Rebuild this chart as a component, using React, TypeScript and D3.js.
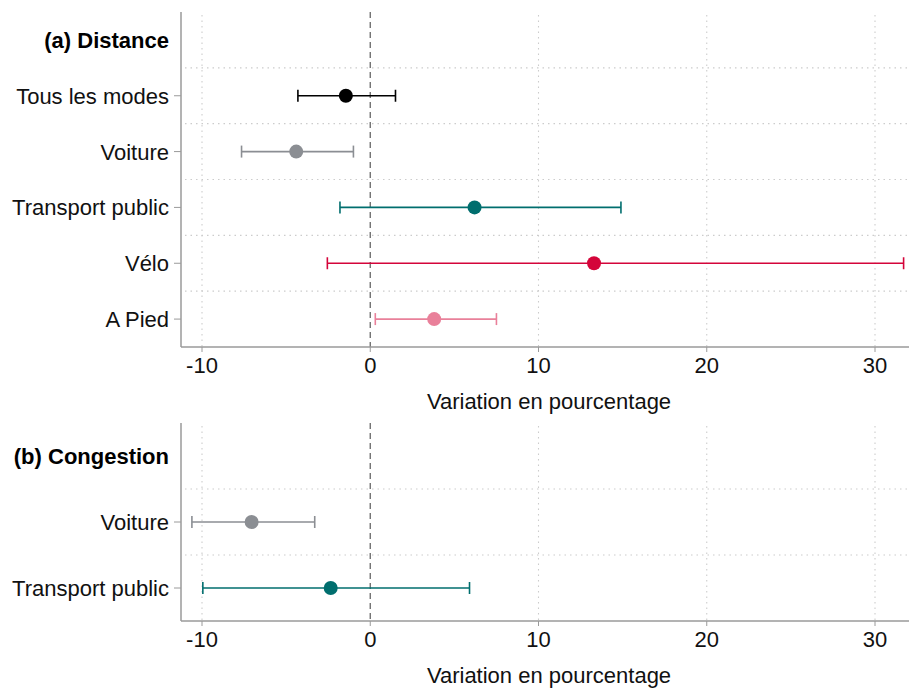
import React from "react";
import * as d3 from "d3";

const W = 909;
const H = 688;

// panel (a) Distance
const distLabels = ["Tous les modes", "Voiture", "Transport public", "Vélo", "A Pied"];
const distEst = [-1.45, -4.4, 6.2, 13.3, 3.8];
const distLo = [-4.3, -7.65, -1.8, -2.55, 0.3];
const distHi = [1.5, -1.0, 14.9, 31.7, 7.5];
const distColors = ["#000000", "#8b8e93", "#006e6e", "#d4053a", "#e9809a"];

// panel (b) Congestion
const congLabels = ["Voiture", "Transport public"];
const congEst = [-7.05, -2.35];
const congLo = [-10.6, -9.95];
const congHi = [-3.3, 5.9];
const congColors = ["#8b8e93", "#006e6e"];

const xTicks = [-10, 0, 10, 20, 30];
const xTitle = "Variation en pourcentage";
const font = "'Liberation Sans', Arial, sans-serif";
const fs = 22;

type PanelProps = {
  title: string;
  labels: string[];
  est: number[];
  lo: number[];
  hi: number[];
  colors: string[];
  top: number;
  bottom: number;
};

function Panel({ title, labels, est, lo, hi, colors, top, bottom }: PanelProps) {
  const left = 181;
  const right = 909;
  const x = d3.scaleLinear().domain([-10, 30]).range([202, 875]);
  const rows = [title, ...labels];
  const y = d3
    .scalePoint<string>()
    .domain(rows)
    .range([top, bottom])
    .padding(0.5);
  const step = y.step();
  const cap = 6;

  return (
    <g>
      {/* vertical grid */}
      {xTicks
        .filter((t) => t !== 0)
        .map((t) => (
          <line
            key={"vg" + t}
            x1={x(t)}
            x2={x(t)}
            y1={top + 3}
            y2={bottom}
            stroke="#cccccc"
            strokeWidth={1.1}
            strokeDasharray="1.5,4"
          />
        ))}
      {/* horizontal grid between rows */}
      {rows.slice(1).map((r) => (
        <line
          key={"hg" + r}
          x1={left + 4}
          x2={right}
          y1={(y(r) as number) - step / 2}
          y2={(y(r) as number) - step / 2}
          stroke="#cccccc"
          strokeWidth={1.1}
          strokeDasharray="1.5,4"
        />
      ))}
      {/* zero line */}
      <line
        x1={x(0)}
        x2={x(0)}
        y1={top}
        y2={bottom}
        stroke="#666"
        strokeWidth={1.3}
        strokeDasharray="6,4"
      />
      {/* axes */}
      <line x1={left} x2={left} y1={top} y2={bottom} stroke="#9a9a9a" strokeWidth={1.5} />
      <line x1={left} x2={right} y1={bottom} y2={bottom} stroke="#9a9a9a" strokeWidth={1.5} />
      {xTicks.map((t) => (
        <g key={"xt" + t}>
          <line x1={x(t)} x2={x(t)} y1={bottom} y2={bottom + 5} stroke="#9a9a9a" strokeWidth={1} />
          <text
            x={x(t)}
            y={bottom + 26}
            textAnchor="middle"
            fontSize={fs}
            fontFamily={font}
            fill="#111"
          >
            {t}
          </text>
        </g>
      ))}
      <text
        x={(left + right) / 2 + 4}
        y={bottom + 62}
        textAnchor="middle"
        fontSize={fs}
        fontFamily={font}
        fill="#111"
      >
        {xTitle}
      </text>
      {/* title row */}
      <text
        x={left - 12}
        y={(y(title) as number) + 8}
        textAnchor="end"
        fontSize={fs}
        fontWeight="bold"
        fontFamily={font}
        fill="#000"
      >
        {title}
      </text>
      {labels.map((lab, i) => {
        const yy = y(lab) as number;
        return (
          <g key={lab}>
            <line x1={left - 7} x2={left} y1={yy} y2={yy} stroke="#9a9a9a" strokeWidth={1} />
            <text
              x={left - 12}
              y={yy + 8}
              textAnchor="end"
              fontSize={fs}
              fontFamily={font}
              fill="#111"
            >
              {lab}
            </text>
            <line x1={x(lo[i])} x2={x(hi[i])} y1={yy} y2={yy} stroke={colors[i]} strokeWidth={1.6} />
            <line x1={x(lo[i])} x2={x(lo[i])} y1={yy - cap} y2={yy + cap} stroke={colors[i]} strokeWidth={1.6} />
            <line x1={x(hi[i])} x2={x(hi[i])} y1={yy - cap} y2={yy + cap} stroke={colors[i]} strokeWidth={1.6} />
            <circle cx={x(est[i])} cy={yy} r={7} fill={colors[i]} />
          </g>
        );
      })}
    </g>
  );
}

export default function App() {
  return (
    <svg
      width={W}
      height={H}
      style={{ position: "absolute", left: 0, top: 0, background: "#fff" }}
    >
      <rect width={W} height={H} fill="#fff" />
      <Panel
        title="(a) Distance"
        labels={distLabels}
        est={distEst}
        lo={distLo}
        hi={distHi}
        colors={distColors}
        top={12}
        bottom={347}
      />
      <Panel
        title="(b) Congestion"
        labels={congLabels}
        est={congEst}
        lo={congLo}
        hi={congHi}
        colors={congColors}
        top={423}
        bottom={621}
      />
    </svg>
  );
}
